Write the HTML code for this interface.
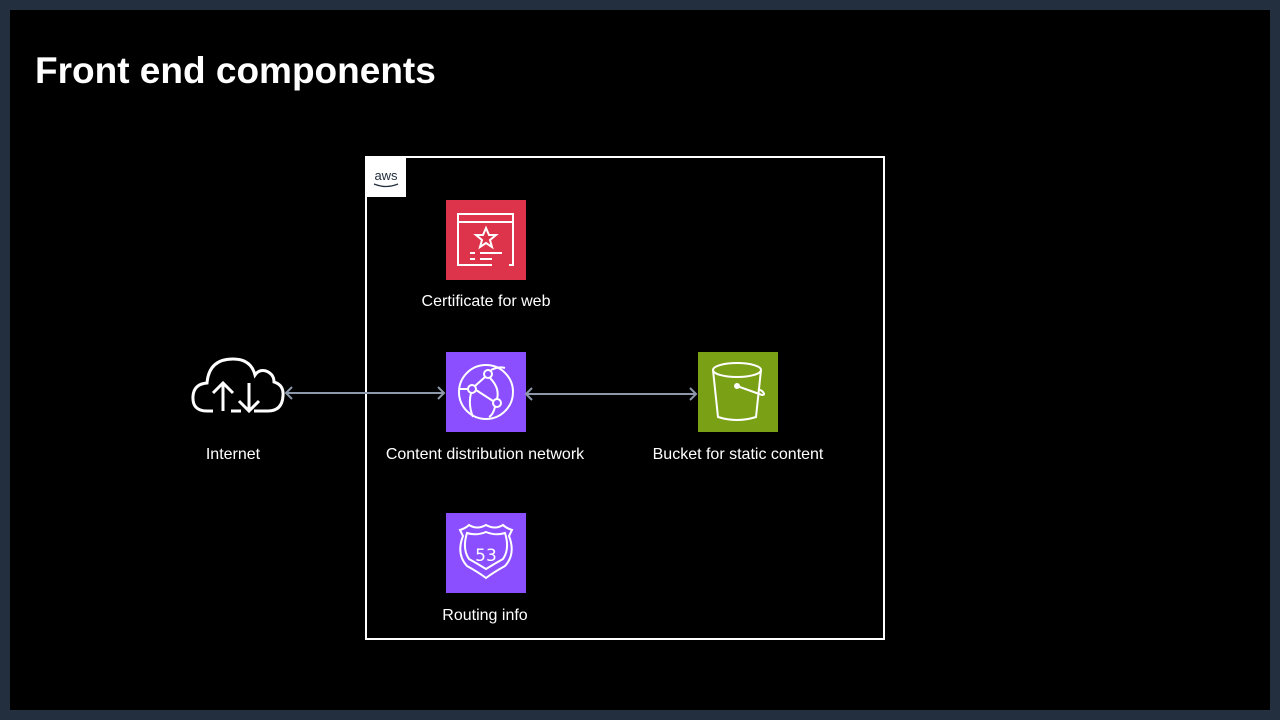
<!DOCTYPE html>
<html><head><style>
body{margin:0;width:1280px;height:720px;background:#232f3e;position:relative;overflow:hidden;font-family:"Liberation Sans",Arial,sans-serif}
.in{position:absolute;left:10px;top:10px;width:1260px;height:700px;background:#000}
.t{position:absolute;left:35px;top:50px;color:#fff;font-size:37px;font-weight:bold}
.l{position:absolute;color:#fff;font-size:16px;text-align:center;width:240px}
</style></head><body>
<div class="in"></div>
<div class="t">Front end components</div>
<svg width="1280" height="720" style="position:absolute;left:0;top:0">
<rect x="366" y="157" width="518" height="482" fill="none" stroke="#fff" stroke-width="2"/>
<rect x="366" y="157" width="40" height="40" fill="#fff"/>
<text x="386" y="180" font-family="Liberation Sans" font-size="13" text-anchor="middle" fill="#232f3e">aws</text>
<path d="M374 184 q12 5 24 0" stroke="#232f3e" fill="none" stroke-width="1.3"/>
<!-- cert -->
<rect x="446" y="200" width="80" height="80" fill="#dd344c"/>
<g stroke="#fff" stroke-width="2" fill="none">
<path d="M492 265 h-34 v-51 h55 v51 h-4"/><path d="M458 222 h55"/>
<polygon points="486,228 489,235 496,235 490,240 492,247 486,243 480,247 482,240 476,235 483,235"/>
<path d="M470 253 h5 M480 253 h22 M470 259 h5 M480 259 h12"/>
</g>
<!-- cdn -->
<rect x="446" y="352" width="80" height="80" fill="#8c4fff"/>
<g stroke="#fff" stroke-width="2" fill="none">
<circle cx="486" cy="392" r="27"/>
<circle cx="488" cy="374" r="4"/><circle cx="472" cy="389" r="4"/><circle cx="497" cy="403" r="4"/>
<path d="M459 389 h9 M476 390 l17 11 M485 377 l-10 9 M490 378 q10 10 7 21 M495 407 q-2 8 -6 10 M471 393 q-3 12 2 24 M491 370 q8 -4 14 -2"/>
</g>
<!-- s3 -->
<rect x="698" y="352" width="80" height="80" fill="#7aa116"/>
<g stroke="#fff" stroke-width="2" fill="none">
<ellipse cx="737" cy="370" rx="24" ry="7"/>
<path d="M713 370 l5 47 q19 6 38 0 l5 -47"/>
<circle cx="737" cy="386" r="2" fill="#fff"/><path d="M737 386 l25 9 q4 0 0 -4 l-4 -2"/>
</g>
<!-- r53 -->
<rect x="446" y="513" width="80" height="80" fill="#8c4fff"/>
<g stroke="#fff" stroke-width="2" fill="none">
<path d="M460 530 q6 -2 9 -5 q8 5 17 0 q9 5 17 0 q3 3 9 5 l-3 6 q7 18 -4 30 q-11 6 -19 12 q-8 -6 -19 -12 q-11 -12 -4 -30z"/>
<path d="M467 533 q9 3 19 -1 q10 4 19 1 q5 16 -2 26 q-9 5 -17 10 q-8 -5 -17 -10 q-7 -10 -2 -26z"/>
</g>
<text x="486" y="561" font-family="DejaVu Sans" font-size="17" fill="#fff" text-anchor="middle">53</text>
<!-- cloud -->
<g stroke="#fff" stroke-width="3" fill="none">
<path d="M213 411 h-6 q-15 0 -14 -15 q1 -12 14 -13 q2 -24 26 -24 q18 0 22 16 q4 -6 11 -4 q8 3 8 11 q10 3 9 14 q-1 15 -15 15 h-14"/>
<path d="M223 411 v-28 M213 393 l10 -10 10 10 M249 383 v28 M239 401 l10 10 10 -10 M231 411 h10"/>
</g>
<!-- arrows -->
<g stroke="#8d99ab" stroke-width="2" fill="none">
<path d="M286 393 H444 M292 387 l-6 6 6 6 M438 387 l6 6 -6 6"/>
<path d="M526 394 H696 M532 388 l-6 6 6 6 M690 388 l6 6 -6 6"/>
</g>
</svg>
<div class="l" style="left:366px;top:293px">Certificate for web</div>
<div class="l" style="left:113px;top:446px">Internet</div>
<div class="l" style="left:365px;top:446px">Content distribution network</div>
<div class="l" style="left:618px;top:446px">Bucket for static content</div>
<div class="l" style="left:365px;top:607px">Routing info</div>
</body></html>
